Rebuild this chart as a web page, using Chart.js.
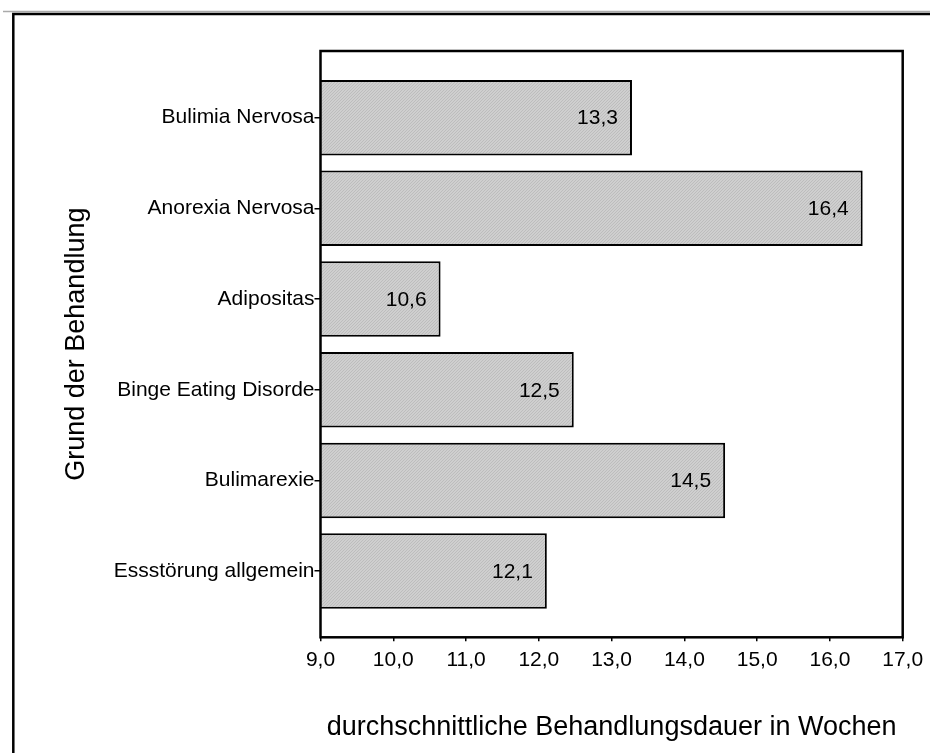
<!DOCTYPE html>
<html>
<head>
<meta charset="utf-8">
<script src="https://cdn.jsdelivr.net/npm/chart.js@4.4.1/dist/chart.umd.min.js"></script>
<style>
  html, body { margin: 0; padding: 0; background: #fff; }
</style>
</head>
<body>
<canvas id="chart" width="930" height="753"></canvas>
<script>
// data
const kategorien = ['Bulimia Nervosa', 'Anorexia Nervosa', 'Adipositas', 'Binge Eating Disorde', 'Bulimarexie', 'Essstörung allgemein'];
const dauer      = [13.28, 16.45, 10.65, 12.48, 14.56, 12.11];
const dauerText  = ['13,3', '16,4', '10,6', '12,5', '14,5', '12,1'];
const xMin = 9, xMax = 17;

const FONT = '"Liberation Sans", Arial, sans-serif';

// fine grey hatch like the original fill
function hatch() {
  const c = document.createElement('canvas');
  c.width = 3; c.height = 3;
  const g = c.getContext('2d');
  g.fillStyle = '#cfcfcf';
  g.fillRect(0, 0, 3, 3);
  g.fillStyle = '#bdbdbd';
  g.fillRect(0, 2, 1, 1); g.fillRect(1, 1, 1, 1); g.fillRect(2, 0, 1, 1);
  return g.createPattern(c, 'repeat');
}

const rahmen = {
  id: 'rahmen',
  beforeDraw(chart) {
    const ctx = chart.ctx;
    ctx.save();
    ctx.fillStyle = '#fff';
    ctx.fillRect(0, 0, chart.width, chart.height);
    ctx.strokeStyle = '#aaa'; ctx.lineWidth = 1.5;
    ctx.beginPath(); ctx.moveTo(3, 11.5); ctx.lineTo(chart.width, 11.5); ctx.stroke();
    ctx.strokeStyle = '#000'; ctx.lineWidth = 2.5;
    ctx.beginPath();
    ctx.moveTo(13.3, chart.height); ctx.lineTo(13.3, 14); ctx.lineTo(chart.width, 14);
    ctx.stroke();
    ctx.restore();
  },
  afterDatasetsDraw(chart) {
    const ctx = chart.ctx, a = chart.chartArea;
    ctx.save();
    // value labels inside the bars
    ctx.font = '21px ' + FONT;
    ctx.fillStyle = '#000';
    ctx.textAlign = 'right';
    ctx.textBaseline = 'middle';
    chart.getDatasetMeta(0).data.forEach((bar, i) => {
      ctx.fillText(dauerText[i], bar.x - 14, bar.y + 1);
    });
    // plot frame
    ctx.strokeStyle = '#000'; ctx.lineWidth = 2.5;
    ctx.strokeRect(a.left, a.top, a.right - a.left, a.bottom - a.top);
    ctx.restore();
  }
};

const ctx = document.getElementById('chart').getContext('2d');
new Chart(ctx, {
  type: 'bar',
  data: {
    datasets: [{
      data: dauer.map((v, i) => ({ x: v, y: i })),
      backgroundColor: hatch(),
      borderColor: '#000',
      borderWidth: 2,
      borderSkipped: false,
      categoryPercentage: 1,
      barPercentage: 0.833
    }]
  },
  options: {
    indexAxis: 'y',
    responsive: false,
    animation: false,
    devicePixelRatio: 1,
    layout: { padding: { top: 51, right: 27.3, left: 0, bottom: 0 } },
    plugins: { legend: { display: false }, tooltip: { enabled: false } },
    scales: {
      x: {
        type: 'linear',
        min: xMin, max: xMax,
        offset: false,
        border: { display: false },
        grid: { drawOnChartArea: false, offset: false, color: '#000', lineWidth: 1.5, tickLength: 4 },
        ticks: {
          stepSize: 1, color: '#000', padding: 6, maxRotation: 0,
          font: { family: FONT, size: 21 },
          callback: v => v.toFixed(1).replace('.', ',')
        },
        title: {
          display: true, text: 'durchschnittliche Behandlungsdauer in Wochen',
          color: '#000', font: { family: FONT, size: 27 }, padding: { top: 0, bottom: 9 }
        },
        afterFit: s => { s.height = 115.7; s.paddingLeft = 0; s.paddingRight = 0; }
      },
      y: {
        type: 'linear',
        reverse: true,
        min: -0.735, max: 5.73,
        offset: false,
        border: { display: false },
        grid: { drawOnChartArea: false, offset: false, color: '#000', lineWidth: 1.5, tickLength: 6 },
        afterBuildTicks: s => { s.ticks = s.ticks.filter(t => Number.isInteger(t.value) && t.value >= 0 && t.value < kategorien.length); },
        ticks: {
          stepSize: 1, color: '#000', padding: 0, autoSkip: false,
          font: { family: FONT, size: 21 },
          callback: v => kategorien[v]
        },
        title: {
          display: true, text: 'Grund der Behandlung',
          color: '#000', font: { family: FONT, size: 27 }, padding: { top: 60, bottom: 0 }
        },
        afterFit: s => { s.width = 320.5; s.paddingTop = 0; s.paddingBottom = 0; }
      }
    }
  },
  plugins: [rahmen]
});
</script>
</body>
</html>
